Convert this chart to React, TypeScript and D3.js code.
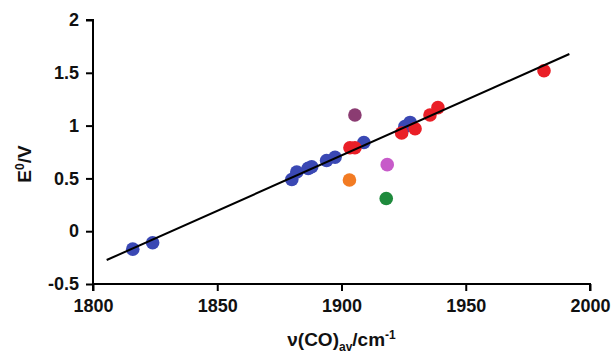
import { useRef, useEffect } from 'react';
import * as d3 from 'd3';

// [nu(CO)av, E0]
const bluePoints: [number, number][] = [
    [1816, -0.17], [1824, -0.11],
    [1880, 0.49], [1882, 0.56], [1886.6, 0.595], [1888, 0.61],
    [1894, 0.67], [1897.4, 0.70], [1909, 0.84],
    [1925.5, 0.99], [1927.6, 1.03],
];
const redPoints: [number, number][] = [
    [1903.4, 0.79], [1905.4, 0.79],
    [1924.2, 0.93], [1929.6, 0.97],
    [1935.6, 1.10], [1938.8, 1.17],
    [1981.5, 1.52],
];
const purplePoints: [number, number][] = [[1905.4, 1.10]];
const orchidPoints: [number, number][] = [[1918.4, 0.63]];
const orangePoints: [number, number][] = [[1903.2, 0.485]];
const greenPoints: [number, number][] = [[1918, 0.31]];

const fitLine: [number, number][] = [[1805.5, -0.273], [1991.7, 1.678]];

const xTicks = [1800, 1850, 1900, 1950, 2000];
const yTicks = [-0.5, 0, 0.5, 1, 1.5, 2];

const series = [
    { pts: bluePoints, color: '#3a48b4' },
    { pts: redPoints, color: '#ea1f27' },
    { pts: purplePoints, color: '#8b3c72' },
    { pts: orchidPoints, color: '#c75bc9' },
    { pts: orangePoints, color: '#f27b23' },
    { pts: greenPoints, color: '#1e8a3c' },
];

export default function App() {
    const ref = useRef<SVGSVGElement>(null);

    useEffect(() => {
        if (!ref.current) return;
        const svg = d3.select(ref.current);
        svg.selectAll("*").remove();

        const width = 613;
        const height = 356;
        const margin = { top: 20, right: 23, bottom: 72, left: 93 };
        const innerWidth = width - margin.left - margin.right;
        const innerHeight = height - margin.top - margin.bottom;
        const font = '"Liberation Sans", Arial, sans-serif';

        const xScale = d3.scaleLinear().domain([1800, 2000]).range([0, innerWidth]);
        const yScale = d3.scaleLinear().domain([-0.5, 2]).range([innerHeight, 0]);

        const g = svg.append('g')
            .attr('transform', `translate(${margin.left}, ${margin.top})`);

        series.forEach(s => {
            g.selectAll(null)
                .data(s.pts)
                .enter()
                .append('circle')
                .attr('cx', d => xScale(d[0]))
                .attr('cy', d => yScale(d[1]))
                .attr('r', 6.8)
                .attr('fill', s.color);
        });

        const line = d3.line<[number, number]>()
            .x(d => xScale(d[0]))
            .y(d => yScale(d[1]));

        g.append('path')
            .datum(fitLine)
            .attr('d', line)
            .attr('fill', 'none')
            .attr('stroke', 'black')
            .attr('stroke-width', 2);

        const xAxis = d3.axisBottom(xScale).tickValues(xTicks).tickSize(7).tickPadding(8)
            .tickFormat(d => String(d));
        const yAxis = d3.axisLeft(yScale).tickValues(yTicks).tickSize(7).tickPadding(7)
            .tickFormat(d => String(d));

        const styleAxis = (ax: d3.Selection<SVGGElement, unknown, null, undefined>) => {
            ax.select('.domain').attr('stroke', 'black').attr('stroke-width', 2);
            ax.selectAll('.tick line').attr('stroke', 'black').attr('stroke-width', 2);
            ax.selectAll('.tick text')
                .attr('fill', '#111')
                .style('font-family', font)
                .style('font-size', '18px')
                .style('font-weight', 'bold');
        };

        const yg = g.append('g').call(yAxis);
        yg.select('.domain').attr('d', `M-7,0H0V${innerHeight}`);
        styleAxis(yg);

        const xg = g.append('g')
            .attr('transform', `translate(0, ${innerHeight})`)
            .call(xAxis);
        xg.select('.domain').attr('d', `M0,7V0H${innerWidth}V7`);
        styleAxis(xg);

        // y axis label
        const yl = svg.append('text')
            .attr('transform', `translate(31, ${margin.top + innerHeight / 2 + 12}) rotate(-90)`)
            .attr('text-anchor', 'middle')
            .style('font-family', font)
            .style('font-size', '19px')
            .style('font-weight', 'bold')
            .attr('fill', '#111');
        yl.append('tspan').text('E');
        yl.append('tspan').attr('dy', -7).style('font-size', '12px').text('0');
        yl.append('tspan').attr('dy', 7).text('/V');

        // x axis label
        const xl = svg.append('text')
            .attr('x', margin.left + innerWidth / 2)
            .attr('y', 346)
            .attr('text-anchor', 'middle')
            .style('font-family', font)
            .style('font-size', '19px')
            .style('font-weight', 'bold')
            .attr('fill', '#111');
        xl.append('tspan').text('ν(CO)');
        xl.append('tspan').attr('dy', 5).style('font-size', '12px').text('av');
        xl.append('tspan').attr('dy', -5).text('/cm');
        xl.append('tspan').attr('dy', -7).style('font-size', '12px').text('-1');
    }, []);

    return (
        <div style={{ position: 'absolute', left: 0, top: 0, width: 613, height: 356, background: 'white' }}>
            <svg ref={ref} width={613} height={356} style={{ display: 'block' }} />
        </div>
    );
}
